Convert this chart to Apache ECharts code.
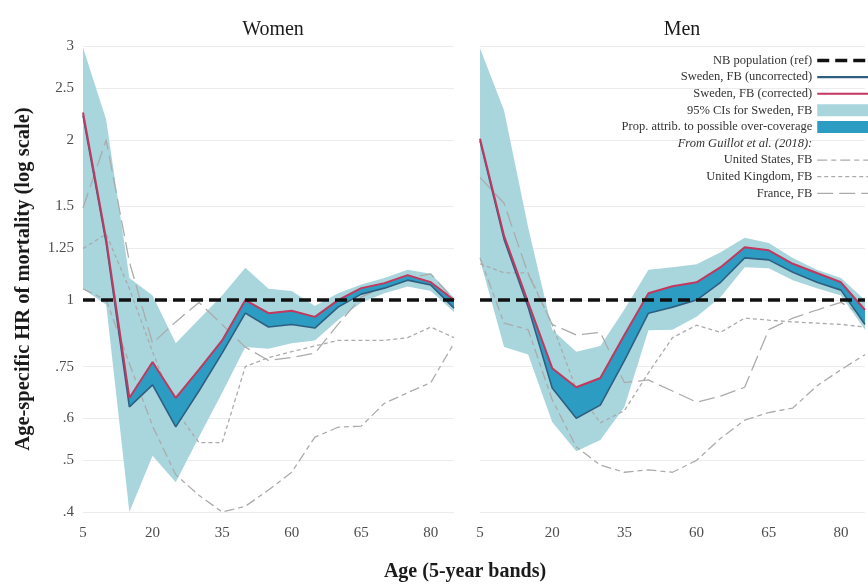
<!DOCTYPE html>
<html><head><meta charset="utf-8">
<script src="https://cdn.jsdelivr.net/npm/echarts@6/dist/echarts.min.js"></script>
<style>html,body{margin:0;padding:0;background:#fff}#c{width:868px;height:584px}</style>
</head><body><div id="c"></div>
<script>
// ---- categories & ticks ----
const ages = ['5','10','15','20','25','30','35','40','45','50','55','60','65','70','75','80','85'];
const xTickLabels = ['5','','','20','','','35','','','60','','','65','','','80',''];
const yTickValues = [0.4, 0.5, 0.6, 0.75, 1, 1.25, 1.5, 2, 2.5, 3];
const yTickLabels = ['.4', '.5', '.6', '.75', '1', '1.25', '1.5', '2', '2.5', '3'];
const nbRef = [1,1,1,1,1,1,1,1,1,1,1,1,1,1,1,1,1];

// ---- Women ----
const womenCorrected   = [2.25, 1.30, 0.655, 0.765, 0.655, 0.74, 0.84, 1.0, 0.945, 0.955, 0.93, 1.0, 1.053, 1.076, 1.114, 1.08, 1.0];
const womenUncorrected = [2.22, 1.28, 0.63, 0.693, 0.578, 0.675, 0.795, 0.945, 0.89, 0.90, 0.886, 0.97, 1.026, 1.053, 1.09, 1.067, 0.966];
const womenCiLow  = [1.05, 0.98, 0.40, 0.51, 0.455, 0.553, 0.67, 0.816, 0.81, 0.83, 0.84, 0.917, 0.99, 1.03, 1.06, 1.04, 0.95];
const womenCiHigh = [2.98, 2.18, 1.10, 1.02, 0.83, 0.92, 1.02, 1.15, 1.05, 1.04, 0.975, 1.03, 1.07, 1.10, 1.14, 1.12, 1.01];
const womenUS     = [1.05, 1.0, 0.76, 0.58, 0.47, 0.43, 0.40, 0.41, 0.44, 0.475, 0.553, 0.577, 0.58, 0.64, 0.67, 0.70, 0.83];
const womenUK     = [1.25, 1.33, 1.05, 0.80, 0.62, 0.54, 0.54, 0.75, 0.78, 0.80, 0.82, 0.84, 0.84, 0.84, 0.85, 0.89, 0.85];
const womenFrance = [1.49, 2.0, 1.18, 0.83, 0.91, 0.99, 0.90, 0.816, 0.77, 0.78, 0.795, 0.90, 1.013, 1.06, 1.10, 1.12, 1.0];

// ---- Men ----
const menCorrected   = [2.01, 1.32, 0.99, 0.745, 0.686, 0.714, 0.86, 1.03, 1.062, 1.08, 1.153, 1.257, 1.24, 1.17, 1.124, 1.08, 0.958];
const menUncorrected = [1.99, 1.30, 0.97, 0.684, 0.60, 0.635, 0.77, 0.945, 0.97, 1.0, 1.08, 1.20, 1.19, 1.128, 1.08, 1.044, 0.90];
const menCiLow  = [1.19, 0.816, 0.79, 0.59, 0.52, 0.546, 0.63, 0.878, 0.88, 0.93, 1.013, 1.153, 1.148, 1.09, 1.053, 1.02, 0.88];
const menCiHigh = [2.97, 2.27, 1.37, 0.88, 0.80, 0.82, 0.96, 1.14, 1.153, 1.168, 1.23, 1.31, 1.28, 1.20, 1.14, 1.10, 1.0];
const menUS     = [1.2, 0.905, 0.88, 0.65, 0.53, 0.49, 0.475, 0.48, 0.475, 0.50, 0.55, 0.595, 0.615, 0.627, 0.69, 0.74, 0.79];
const menUK     = [1.17, 1.125, 1.125, 0.90, 0.68, 0.588, 0.62, 0.73, 0.85, 0.897, 0.87, 0.925, 0.917, 0.91, 0.905, 0.90, 0.89];
const menFrance = [1.70, 1.52, 1.12, 0.90, 0.86, 0.87, 0.70, 0.708, 0.675, 0.643, 0.66, 0.686, 0.88, 0.925, 0.958, 0.99, 0.93];

// ---- names ----
const N_NB = 'NB population (ref)';
const N_UNC = 'Sweden, FB (uncorrected)';
const N_COR = 'Sweden, FB (corrected)';
const N_CI = '95% CIs for Sweden, FB';
const N_PROP = 'Prop. attrib. to possible over-coverage';
const N_FROM = 'From Guillot et al. (2018):';
const N_US = 'United States, FB';
const N_UK = 'United Kingdom, FB';
const N_FR = 'France, FB';

const FONT = '"Liberation Serif", "DejaVu Serif", serif';
const LIGHT = '#a9d5dd', DARK = '#2d9cc2', RED = '#c2385e', BLUE = '#2f5f80', GRAY = '#ababab';
const L = v => Math.log(v);
const yMin = yTickValues[0], yMax = yTickValues[yTickValues.length - 1];

function yLabel(v) {
  const i = yTickValues.findIndex(t => Math.abs(L(t) - v) < 1e-6);
  return i >= 0 ? yTickLabels[i] : '';
}
function makeYAxis(g, showLabels) {
  return {
    type: 'value', gridIndex: g, min: L(yMin), max: L(yMax),
    axisLine: { show: false },
    axisTick: { show: false, customValues: yTickValues.map(L) },
    axisLabel: { show: showLabels, customValues: yTickValues.map(L), formatter: yLabel,
      fontFamily: FONT, fontSize: 15, color: '#4d4d4d', margin: 9 },
    splitLine: { show: true, lineStyle: { color: '#ececec', width: 1 } },
    name: showLabels ? 'Age-specific HR of mortality (log scale)' : '',
    nameLocation: 'middle', nameGap: 49,
    nameTextStyle: { fontFamily: FONT, fontSize: 20.5, fontWeight: 'bold', color: '#1a1a1a' }
  };
}
function makeXAxis(g) {
  return {
    type: 'category', gridIndex: g, data: ages, boundaryGap: false,
    axisLine: { show: false }, axisTick: { show: false }, splitLine: { show: false },
    axisLabel: { interval: 0, formatter: (v, i) => xTickLabels[i], fontFamily: FONT, fontSize: 15,
      color: '#4d4d4d', margin: 14 }
  };
}
function panel(g, d) {
  const base = { type: 'line', symbol: 'none', silent: true, xAxisIndex: g, yAxisIndex: g, animation: false };
  const hidden = { width: 0, opacity: 0 };
  return [
    { ...base, name: 'ciBase' + g, data: d.ciLo.map(L), stack: 'ci' + g, stackStrategy: 'all', lineStyle: hidden, z: 1 },
    { ...base, name: N_CI, data: d.ciHi.map((v, i) => L(v) - L(d.ciLo[i])), stack: 'ci' + g, stackStrategy: 'all',
      lineStyle: hidden, areaStyle: { color: LIGHT, opacity: 1 }, itemStyle: { color: LIGHT }, z: 1 },
    { ...base, name: N_US, data: d.us.map(L), lineStyle: { color: GRAY, width: 1.3, type: [10, 4, 5, 4] }, itemStyle: { color: GRAY }, z: 2 },
    { ...base, name: N_UK, data: d.uk.map(L), lineStyle: { color: GRAY, width: 1.3, type: [4, 3] }, itemStyle: { color: GRAY }, z: 2 },
    { ...base, name: N_FR, data: d.fr.map(L), lineStyle: { color: GRAY, width: 1.3, type: [16, 6] }, itemStyle: { color: GRAY }, z: 2 },
    { ...base, name: 'ovBase' + g, data: d.unc.map(L), stack: 'ov' + g, stackStrategy: 'all', lineStyle: hidden, z: 3 },
    { ...base, name: N_PROP, data: d.cor.map((v, i) => L(v) - L(d.unc[i])), stack: 'ov' + g, stackStrategy: 'all',
      lineStyle: hidden, areaStyle: { color: DARK, opacity: 1 }, itemStyle: { color: DARK }, z: 3 },
    { ...base, name: N_UNC, data: d.unc.map(L), lineStyle: { color: BLUE, width: 1.6 }, itemStyle: { color: BLUE }, z: 4 },
    { ...base, name: N_COR, data: d.cor.map(L), lineStyle: { color: RED, width: 2 }, itemStyle: { color: RED }, z: 4 },
    { ...base, name: N_NB, data: nbRef.map(L), lineStyle: { color: '#111', width: 3.5, type: [12, 6] }, itemStyle: { color: '#111' }, z: 5 }
  ];
}

const chart = echarts.init(document.getElementById('c'), null, { renderer: 'canvas' });
const series = [].concat(
  panel(0, { cor: womenCorrected, unc: womenUncorrected, ciLo: womenCiLow, ciHi: womenCiHigh, us: womenUS, uk: womenUK, fr: womenFrance }),
  panel(1, { cor: menCorrected, unc: menUncorrected, ciLo: menCiLow, ciHi: menCiHigh, us: menUS, uk: menUK, fr: menFrance }),
  [{ type: 'line', name: N_FROM, data: [], xAxisIndex: 0, yAxisIndex: 0, symbol: 'none', itemStyle: { color: '#fff' } }]
);

const noSym = { opacity: 0 };
chart.setOption({
  animation: false,
  backgroundColor: '#fff',
  title: [
    { text: 'Women', left: 268, top: 15, textAlign: 'center', textStyle: { fontFamily: FONT, fontSize: 20, fontWeight: 'normal', color: '#1a1a1a' } },
    { text: 'Men', left: 677, top: 15, textAlign: 'center', textStyle: { fontFamily: FONT, fontSize: 20, fontWeight: 'normal', color: '#1a1a1a' } },
    { text: 'Age (5-year bands)', left: 460, top: 557, textAlign: 'center', textStyle: { fontFamily: FONT, fontSize: 20, fontWeight: 'bold', color: '#1a1a1a' } }
  ],
  grid: [
    { left: 83, width: 371, top: 46, bottom: 72 },
    { left: 480, right: -6, top: 46, bottom: 72 }
  ],
  xAxis: [makeXAxis(0), makeXAxis(1)],
  yAxis: [makeYAxis(0, true), makeYAxis(1, false)],
  legend: {
    orient: 'vertical', right: -12, top: 49, align: 'right',
    itemWidth: 56, itemHeight: 12, itemGap: 3.6, selectedMode: false,
    textStyle: { fontFamily: FONT, fontSize: 12.5, color: '#333', lineHeight: 12 },
    data: [
      { name: N_NB, itemStyle: noSym, lineStyle: { width: 3.5 } },
      { name: N_UNC, itemStyle: noSym, lineStyle: { width: 2.2 } },
      { name: N_COR, itemStyle: noSym, lineStyle: { width: 2 } },
      { name: N_CI, icon: 'rect', itemStyle: { color: LIGHT } },
      { name: N_PROP, icon: 'rect', itemStyle: { color: DARK } },
      { name: N_FROM, icon: 'none', textStyle: { fontStyle: 'italic' } },
      { name: N_US, itemStyle: noSym, lineStyle: { width: 1.3 } },
      { name: N_UK, itemStyle: noSym, lineStyle: { width: 1.3 } },
      { name: N_FR, itemStyle: noSym, lineStyle: { width: 1.3 } }
    ]
  },
  series: series
});
</script>
</body></html>
